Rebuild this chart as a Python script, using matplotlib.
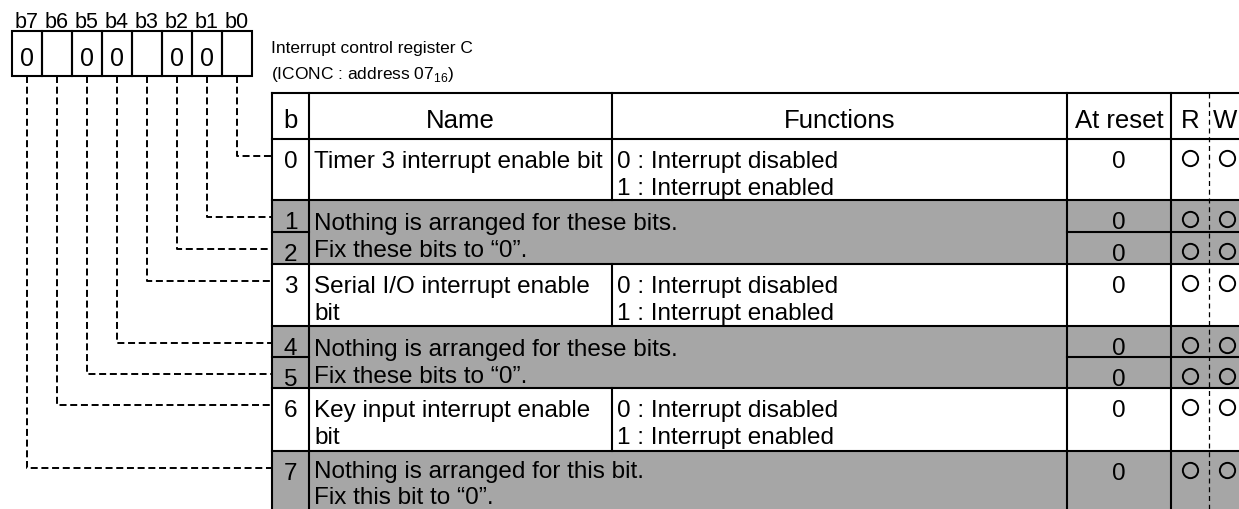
import matplotlib.pyplot as plt
from matplotlib.patches import Rectangle

plt.rcParams['font.family'] = ['Liberation Sans', 'DejaVu Sans']
plt.rcParams['mathtext.fontset'] = 'custom'
plt.rcParams['mathtext.rm'] = 'Liberation Sans'

# Register layout (left to right = b7 .. b0)
reg_bits = ['b7', 'b6', 'b5', 'b4', 'b3', 'b2', 'b1', 'b0']
reg_values = ['0', '', '0', '0', '', '0', '0', '']
title_lines = ['Interrupt control register C', '(ICONC : address 07$_{16}$)']

# Table contents, one entry per bit 0..7
headers = ['b', 'Name', 'Functions', 'At reset', 'R', 'W']
bit_numbers = ['0', '1', '2', '3', '4', '5', '6', '7']
bit_names = [['Timer 3 interrupt enable bit'], None, None,
             ['Serial I/O interrupt enable', 'bit'], None, None,
             ['Key input interrupt enable', 'bit'], None]
bit_functions = [['0 : Interrupt disabled', '1 : Interrupt enabled'], None, None,
                 ['0 : Interrupt disabled', '1 : Interrupt enabled'], None, None,
                 ['0 : Interrupt disabled', '1 : Interrupt enabled'], None]
reset_values = ['0', '0', '0', '0', '0', '0', '0', '0']
readable = [True] * 8
writable = [True] * 8
reserved_groups = [[1, 2], [4, 5], [7]]
reserved_text = [['Nothing is arranged for these bits.', 'Fix these bits to \u201c0\u201d.'],
                 ['Nothing is arranged for these bits.', 'Fix these bits to \u201c0\u201d.'],
                 ['Nothing is arranged for this bit.', 'Fix this bit to \u201c0\u201d.']]

# geometry in pixels
W, H = 1239, 510
gray = '#a6a6a6'
lw = 1.5
reg_x0, reg_y0, reg_y1, cell_w = 12, 32, 77, 30
cols = [272, 309, 612, 1067, 1171, 1209, 1250]
tab_top, head_bot = 94, 140
row_edges = [140, 201, 233, 265, 327, 358, 389, 452, 540]
body_fs = 17.5
head_fs = 18.5
line_gap = 27
first = 19

fig = plt.figure(figsize=(W / 100, H / 100), dpi=100)
ax = fig.add_axes([0, 0, 1, 1])
ax.set_xlim(0, W)
ax.set_ylim(H, 0)
ax.axis('off')

reserved_of = {}
for g, grp in enumerate(reserved_groups):
    for b in grp:
        reserved_of[b] = g


def txt(x, y, s, fs=body_fs, ha='left'):
    # y is the visual middle of the line
    ax.text(x, y + fs * 0.36 * 100 / 72, s, fontsize=fs, ha=ha, va='baseline', color='black')


def hline(x0, x1, y):
    ax.plot([x0, x1], [y, y], color='black', lw=lw, solid_capstyle='projecting')


def vline(x, y0, y1):
    ax.plot([x, x], [y0, y1], color='black', lw=lw, solid_capstyle='projecting')


# register boxes
for i, (lab, val) in enumerate(zip(reg_bits, reg_values)):
    cx = reg_x0 + cell_w * i + cell_w / 2
    ax.add_patch(Rectangle((reg_x0 + cell_w * i, reg_y0), cell_w, reg_y1 - reg_y0,
                           fill=False, ec='black', lw=lw))
    ax.text(cx, 28, lab, fontsize=15.5, ha='center', va='baseline')
    if val:
        ax.text(cx, 66, val, fontsize=18, ha='center', va='baseline')

ax.text(271, 53, title_lines[0], fontsize=12.5, va='baseline')
ax.text(271, 79, title_lines[1], fontsize=12.5, va='baseline')

# row backgrounds
for i in range(8):
    fc = gray if i in reserved_of else 'white'
    ax.add_patch(Rectangle((cols[0], row_edges[i]), cols[-1] - cols[0],
                           row_edges[i + 1] - row_edges[i], fc=fc, ec='none', zorder=0))

# header
hline(cols[0], cols[-1], tab_top)
hline(cols[0], cols[-1], head_bot)
for j, h in enumerate(headers[:-1]):
    txt((cols[j] + cols[j + 1]) / 2, 119, h, fs=head_fs, ha='center')
txt(cols[5] + 4, 119, headers[-1], fs=head_fs)

# horizontal row lines
for i in range(1, 8):
    y = row_edges[i]
    same = i in reserved_of and (i - 1) in reserved_of and reserved_of[i] == reserved_of[i - 1]
    if same:
        hline(cols[0], cols[1], y)
        hline(cols[3], cols[-1], y)
    else:
        hline(cols[0], cols[-1], y)

# vertical lines
bottom = row_edges[-1]
for j in [0, 1, 3, 4]:
    vline(cols[j], tab_top, bottom)
vline(cols[2], tab_top, head_bot)
for i in range(8):
    if i not in reserved_of:
        vline(cols[2], row_edges[i], row_edges[i + 1])
ax.plot([cols[5], cols[5]], [tab_top, bottom], color='black', lw=0.9, linestyle=(0, (4, 3)))

# row contents
for i in range(8):
    y = row_edges[i] + first
    txt((cols[0] + cols[1]) / 2, y, bit_numbers[i], ha='center')
    if bit_names[i]:
        for k, s in enumerate(bit_names[i]):
            txt(cols[1] + 5, y + k * line_gap, s)
        for k, s in enumerate(bit_functions[i]):
            txt(cols[2] + 5, y + k * line_gap, s)
    txt((cols[3] + cols[4]) / 2, y, reset_values[i], ha='center')
    if readable[i]:
        ax.plot((cols[4] + cols[5]) / 2, y, 'o', ms=11, mfc='none', mec='black', mew=1.4)
    if writable[i]:
        ax.plot(cols[5] + 18, y, 'o', ms=11, mfc='none', mec='black', mew=1.4)

for g, grp in enumerate(reserved_groups):
    last = grp[0] == 7
    y = row_edges[grp[0]] + (first - 2 if last else first + 1)
    gap = 26 if last else line_gap
    for k, s in enumerate(reserved_text[g]):
        txt(cols[1] + 5, y + k * gap, s)

# dashed leader lines from register bits to table rows
for i in range(8):
    bit = 7 - i
    cx = reg_x0 + cell_w * i + cell_w / 2
    y = row_edges[bit] + first - 2
    ax.plot([cx, cx, cols[0]], [reg_y1, y, y], color='black', lw=1.4,
            linestyle=(0, (3.6, 1.9)))

fig.savefig('out.png', dpi=100)
